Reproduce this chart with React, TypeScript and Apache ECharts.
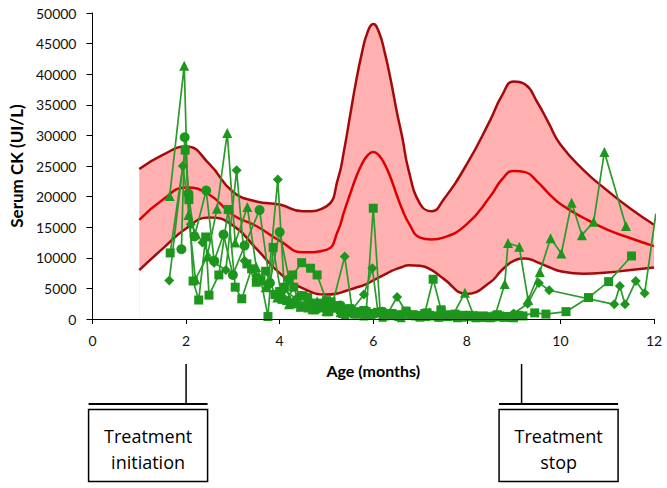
import React, { useEffect, useRef } from "react";
import * as echarts from "echarts";

// Reference band (age in months, serum CK in UI/L)
const bandMonths = [1, 1.5, 2, 2.5, 3, 3.5, 4, 4.5, 5, 5.25, 5.375, 5.5, 5.625, 5.75, 5.875, 6, 6.125, 6.25, 6.375, 6.5, 6.625, 6.75, 7, 7.25, 7.5, 8, 8.5, 8.75, 9, 9.25, 9.5, 9.75, 10, 10.5, 11, 11.5, 12];
const upperCK = [24500, 26800, 28200, 25300, 20800, 19200, 18700, 17600, 18400, 23000, 27500, 33000, 38500, 43200, 46800, 48200, 46800, 43400, 39000, 34000, 29500, 24500, 18800, 17600, 19500, 25300, 32500, 36500, 38800, 38300, 35500, 32000, 28500, 24300, 21000, 18000, 15400];
const middleCK = [16200, 19500, 21500, 20300, 17000, 15200, 12800, 10900, 11300, 14500, 17500, 20300, 23000, 25200, 26700, 27300, 26700, 25200, 23000, 20300, 17800, 15800, 13300, 13000, 13300, 15500, 20000, 22800, 24200, 24000, 22500, 20500, 18800, 16500, 14600, 13200, 11900];
const lowerCK = [8000, 11500, 14800, 16600, 15300, 11500, 7500, 5000, 4000, 4200, 4500, 4800, 5100, 5400, 5800, 6300, 6800, 7300, 7800, 8200, 8500, 8800, 8700, 8000, 6600, 4100, 6000, 8000, 9500, 9900, 9300, 8500, 7800, 7400, 7600, 8000, 8400];

// Patients
const triA_x = [1.65, 1.96, 2.05, 2.2, 2.45, 2.66, 2.88, 3.05, 3.31, 3.5, 3.7, 3.95, 4.2, 4.45, 4.7, 5.0, 5.3, 5.6, 5.9, 6.2, 6.5, 6.8, 7.1, 7.4, 7.7, 7.96, 8.15, 8.4, 8.6, 8.81, 8.88, 9.12, 9.31, 9.56, 9.79, 10.02, 10.24, 10.46, 10.71, 10.94, 11.4];
const triA_y = [20100, 41400, 17000, 6500, 10200, 18000, 30400, 12500, 18300, 8500, 5200, 3500, 2400, 2000, 1600, 1300, 1100, 900, 800, 700, 600, 800, 500, 450, 600, 4300, 500, 400, 450, 5700, 12400, 11800, 3100, 7700, 13200, 10700, 19000, 13700, 15900, 27300, 15200];

const circB_x = [1.9, 1.97, 2.05, 2.18, 2.43, 2.6, 2.8, 3.0, 3.25, 3.57, 3.79, 4.0, 4.2, 4.45, 4.7, 5.0, 5.3, 5.6, 5.9, 6.2, 6.6, 7.0, 7.4, 7.8, 8.2, 8.6, 9.0];
const circB_y = [11400, 29700, 20500, 13500, 21000, 9500, 13800, 7200, 12000, 17800, 5900, 14200, 6500, 3800, 2500, 1500, 2200, 1000, 800, 1200, 600, 500, 400, 350, 500, 400, 600];

const sqC_x = [1.66, 1.98, 2.06, 2.15, 2.27, 2.42, 2.49, 2.7, 2.9, 3.05, 3.19, 3.4, 3.6, 3.75, 3.86, 4.05, 4.28, 4.47, 4.66, 4.8, 5.0, 5.2, 5.4, 5.7, 6.0, 6.3, 6.6, 6.9, 7.2, 7.5, 7.8, 8.1, 8.4, 8.7];
const sqC_y = [10800, 27600, 19500, 6200, 3100, 13400, 3900, 7200, 17900, 5200, 3300, 8200, 6300, 400, 11700, 3200, 7200, 9200, 8300, 7200, 3000, 1800, 1500, 1200, 900, 700, 600, 500, 600, 400, 300, 400, 300, 500];

const sqD_x = [3.3, 3.5, 3.7, 3.9, 4.1, 4.3, 4.5, 4.7, 4.9, 5.1, 5.3, 5.5, 5.7, 5.85, 6.0, 6.15, 6.3, 6.5, 6.7, 6.9, 7.1, 7.28, 7.45, 7.6, 7.8, 8.0, 8.2, 8.4, 8.6, 8.8, 9.0];
const sqD_y = [9000, 6000, 7800, 4000, 5200, 2500, 3800, 2600, 1800, 2800, 1500, 1000, 900, 1200, 18100, 1000, 800, 700, 1000, 600, 900, 6500, 1500, 700, 500, 400, 300, 350, 500, 300, 400];

const sqE_x = [7.9, 8.2, 8.5, 8.8, 9.0, 9.2, 9.45, 9.69, 10.12, 10.6, 11.03, 11.52];
const sqE_y = [600, 300, 200, 400, 300, 500, 1000, 800, 1200, 3500, 6100, 10300];

const diaF_x = [1.64, 1.93, 2.1, 2.35, 2.6, 2.85, 3.08, 3.25, 3.5, 3.75, 3.96, 4.1, 4.35, 4.6, 4.85, 5.1, 5.39, 5.55, 5.8, 5.98, 6.1, 6.3, 6.51, 6.7, 6.9, 7.2, 7.5, 7.8, 8.1, 8.4, 8.7, 9.0, 9.3, 9.54, 9.76, 11.15, 11.27, 11.38, 11.61, 11.8, 12.04];
const diaF_y = [6300, 25000, 15500, 12500, 9200, 8000, 24300, 9500, 7000, 5500, 22800, 4800, 3300, 2300, 1800, 1600, 10200, 1500, 4000, 8300, 1200, 800, 3600, 1100, 600, 500, 700, 400, 500, 300, 400, 900, 2500, 5900, 4700, 2400, 5400, 2400, 6200, 4200, 17200];

const sqG_x = [4.0, 4.15, 4.3, 4.45, 4.6, 4.75, 4.9, 5.05, 5.2, 5.35, 5.5, 5.65, 5.8, 5.95, 6.1, 6.25, 6.4, 6.55, 6.7, 6.85, 7.0, 7.15, 7.3, 7.45, 7.6, 7.75, 7.9, 8.05, 8.2, 8.35, 8.5, 8.65, 8.8, 8.95, 9.1];
const sqG_y = [4500, 3000, 5200, 2000, 3500, 1500, 2600, 1200, 2200, 900, 1700, 800, 1400, 600, 1100, 500, 900, 400, 1300, 700, 300, 1000, 500, 1200, 400, 800, 300, 600, 200, 500, 300, 700, 400, 250, 600];

const triH_x = [4.4, 4.6, 4.8, 5.0, 5.2, 5.4, 5.6, 5.8, 6.0, 6.2, 6.4, 6.6, 6.8, 7.0, 7.2, 7.4, 7.6, 7.8, 8.0, 8.2, 8.4, 8.6, 8.8, 9.0];
const triH_y = [2500, 1800, 3000, 1200, 2100, 700, 1500, 500, 1100, 300, 800, 200, 900, 400, 1200, 300, 600, 200, 700, 400, 250, 500, 300, 200];

const patients = [
  { name: "P1", symbol: "triangle", size: 10, xs: triA_x, ys: triA_y },
  { name: "P2", symbol: "circle", size: 10, xs: circB_x, ys: circB_y },
  { name: "P3", symbol: "rect", size: 9, xs: sqC_x, ys: sqC_y },
  { name: "P4", symbol: "rect", size: 9, xs: sqD_x, ys: sqD_y },
  { name: "P5", symbol: "rect", size: 9, xs: sqE_x, ys: sqE_y },
  { name: "P6", symbol: "diamond", size: 10, xs: diaF_x, ys: diaF_y },
  { name: "P7", symbol: "rect", size: 9, xs: sqG_x, ys: sqG_y },
  { name: "P8", symbol: "triangle", size: 9, xs: triH_x, ys: triH_y },
];

const xTicks = { min: 0, max: 12, interval: 2 };
const yTicks = { min: 0, max: 50000, interval: 5000 };

const annotations = [
  { month: 2, lines: ["Treatment", "initiation"], boxOffset: -38 },
  { month: 9.17, lines: ["Treatment", "stop"], boxOffset: 37 },
];

export default function App() {
  const ref = useRef<HTMLDivElement>(null);
  useEffect(() => {
    const chart = echarts.init(ref.current!, null, { renderer: "svg" });
    const green = "#1c961c";
    const dark = "#a50a0a";
    const series: any[] = [
      {
        name: "upper",
        type: "line",
        smooth: true,
        symbol: "none",
        data: bandMonths.map((m, i) => [m, upperCK[i]]),
        lineStyle: { color: dark, width: 2.5 },
        areaStyle: { color: "#ffb1b1", opacity: 1, origin: "start" },
        z: 1,
      },
      {
        name: "lower",
        type: "line",
        smooth: true,
        symbol: "none",
        data: bandMonths.map((m, i) => [m, lowerCK[i]]),
        lineStyle: { color: dark, width: 2.5 },
        areaStyle: { color: "#ffffff", opacity: 1, origin: "start" },
        z: 1,
      },
      {
        name: "middle",
        type: "line",
        smooth: true,
        symbol: "none",
        data: bandMonths.map((m, i) => [m, middleCK[i]]),
        lineStyle: { color: "#dd0000", width: 2.5 },
        z: 2,
      },
      ...patients.map((p) => ({
        name: p.name,
        type: "line",
        symbol: p.symbol,
        symbolSize: p.size,
        showAllSymbol: true,
        data: p.xs.map((x, i) => [x, p.ys[i]]),
        lineStyle: { color: "#2a9a2a", width: 1.7 },
        itemStyle: { color: green },
        z: 3,
      })),
    ];
    chart.setOption({
      animation: false,
      textStyle: { fontFamily: "Lato" },
      grid: { left: 89, right: 13, top: 13, bottom: 169, containLabel: false },
      xAxis: {
        type: "value",
        ...xTicks,
        z: 10,
        name: "Age (months)",
        nameLocation: "middle",
        nameGap: 43,
        nameTextStyle: { fontFamily: "Lato", fontSize: 16, fontWeight: "bold", color: "#000" },
        axisLine: { lineStyle: { color: "#000", width: 1 } },
        axisTick: { show: true, length: 5, lineStyle: { color: "#000" } },
        axisLabel: { fontFamily: "Lato", fontSize: 14, color: "#111", margin: 14, formatter: (v: number) => String(v) },
        splitLine: { show: false },
      },
      yAxis: {
        type: "value",
        ...yTicks,
        z: 10,
        name: "Serum CK (UI/L)",
        nameLocation: "middle",
        nameGap: 63,
        nameTextStyle: { fontFamily: "Lato", fontSize: 17, fontWeight: "bold", color: "#000" },
        axisLine: { show: true, lineStyle: { color: "#000", width: 1 } },
        axisTick: { show: true, length: 6, lineStyle: { color: "#000" } },
        axisLabel: { fontFamily: "Lato", fontSize: 14, color: "#111", margin: 16, formatter: (v: number) => String(v) },
        splitLine: { show: false },
      },
      series,
    });

    const graphics: any[] = [];
    annotations.forEach((a) => {
      const px = chart.convertToPixel({ xAxisIndex: 0 }, a.month) as number;
      const cx = px + a.boxOffset;
      const w = 119;
      const left = cx - w / 2;
      graphics.push({ type: "line", shape: { x1: px, y1: 364, x2: px, y2: 404 }, style: { stroke: "#000", lineWidth: 1.5 } });
      graphics.push({ type: "line", shape: { x1: left, y1: 404, x2: left + w, y2: 404 }, style: { stroke: "#000", lineWidth: 2 } });
      graphics.push({ type: "rect", shape: { x: left, y: 409.5, width: w, height: 72 }, style: { fill: "#fff", stroke: "#000", lineWidth: 1.5 } });
      a.lines.forEach((t, i) => {
        graphics.push({
          type: "text",
          style: { text: t, x: cx, y: 436 + i * 26, align: "center", verticalAlign: "middle", fontFamily: "Open Sans", fontSize: 18, fill: "#000" },
        });
      });
    });
    chart.setOption({ graphic: graphics });
    return () => chart.dispose();
  }, []);
  return <div ref={ref} style={{ width: 667, height: 488, position: "absolute", left: 0, top: 0 }} />;
}
